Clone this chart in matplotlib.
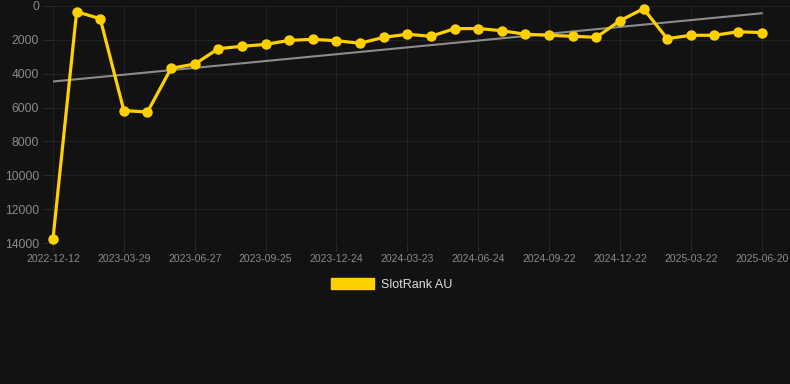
import numpy as np
import matplotlib
matplotlib.use("Agg")
import matplotlib.pyplot as plt
from matplotlib.patches import Patch

plt.rcParams['font.family'] = ['Liberation Sans', 'DejaVu Sans']

# rank per month (lower is better)
ranks = [13750, 340, 750, 6180, 6260, 3680, 3430, 2520, 2380, 2270,
         2030, 1970, 2050, 2200, 1850, 1670, 1790, 1340, 1330, 1460,
         1670, 1730, 1790, 1850, 870, 160, 1930, 1730, 1730, 1520, 1570]
tick_labels = ['2022-12-12', '2023-03-29', '2023-06-27', '2023-09-25',
               '2023-12-24', '2024-03-23', '2024-06-24', '2024-09-22',
               '2024-12-22', '2025-03-22', '2025-06-20']
yticks = [0, 2000, 4000, 6000, 8000, 10000, 12000, 14000]

bg = '#121212'
grid_c = '#212121'
text_c = '#8a8a8a'
yellow = '#ffd000'

x = np.arange(len(ranks))

fig = plt.figure(figsize=(7.9, 3.84), dpi=100, facecolor=bg)
ax = fig.add_axes([53/790, 1 - 243/384, 1 - 53/790, 237/384])
ax.set_facecolor(bg)

# trend line (least squares fit)
coef = np.polyfit(x, ranks, 1)
ax.plot(x, np.polyval(coef, x), color='#8c8c8c', lw=1.5, zorder=2)

ax.plot(x, ranks, color=yellow, lw=2.3, marker='o', markersize=7.5,
        markeredgewidth=0, zorder=3, clip_on=False)

ax.set_ylim(14000, 0)
ax.set_yticks(yticks)
ax.set_xlim(0, 31.2)
ax.set_xticks(x[::3])
ax.set_xticklabels(tick_labels)

ax.grid(True, color=grid_c, lw=0.8)
ax.set_axisbelow(True)
for s in ax.spines.values():
    s.set_visible(False)
ax.tick_params(axis='y', colors='#2a2a2a', labelcolor=text_c, labelsize=8.7,
               length=7, width=0.8, pad=3)
ax.tick_params(axis='x', colors='#2a2a2a', labelcolor=text_c, labelsize=7.5,
               length=6, width=0.8, pad=2)

handle = Patch(facecolor=yellow, edgecolor=yellow)
fig.legend([handle], ['SlotRank AU'], loc='center', bbox_to_anchor=(0.496, 0.26),
           frameon=False, fontsize=9, labelcolor='#dddddd',
           handlelength=3.4, handleheight=1.0, handletextpad=0.6)

fig.savefig('out.png', dpi=100, facecolor=bg)
